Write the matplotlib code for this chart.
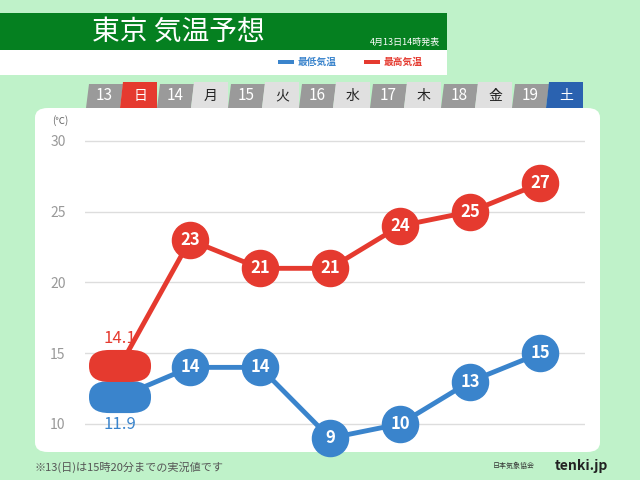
import matplotlib
matplotlib.use("Agg")
import matplotlib.pyplot as plt
from matplotlib.patches import FancyBboxPatch, Rectangle, Polygon

plt.rcParams["font.family"] = ["Noto Sans CJK JP"]

dates = ["13", "14", "15", "16", "17", "18", "19"]
weekdays = ["日", "月", "火", "水", "木", "金", "土"]
max_temp = [14.1, 23, 21, 21, 24, 25, 27]
min_temp = [11.9, 14, 14, 9, 10, 13, 15]
yticks = [10, 15, 20, 25, 30]

RED = "#e53a2f"
BLUE = "#3a84cc"
W, H = 640, 480
fig = plt.figure(figsize=(6.4, 4.8), dpi=100)
fig.patch.set_facecolor("#bff2c9")

def fx(px): return px / W
def fy(py): return 1 - py / H

# header
fig.patches.append(Rectangle((0, fy(75)), fx(447), (75 - 13) / H, transform=fig.transFigure, facecolor="white", edgecolor="none", zorder=-1))
fig.patches.append(Rectangle((0, fy(50)), fx(447), 37 / H, transform=fig.transFigure, facecolor="#058020", edgecolor="none", zorder=-1))
fig.text(fx(178), fy(32), "東京 気温予想", color="white", fontsize=20, va="center", ha="center")
fig.text(fx(440), fy(42), "4月13日14時発表", color="white", fontsize=6.5, va="center", ha="right")
fig.patches.append(Rectangle((fx(278), fy(64)), fx(16), 4 / H, transform=fig.transFigure, facecolor=BLUE, edgecolor="none"))
fig.text(fx(298), fy(62), "最低気温", color=BLUE, fontsize=7, va="center", weight="bold")
fig.patches.append(Rectangle((fx(364), fy(64)), fx(16), 4 / H, transform=fig.transFigure, facecolor=RED, edgecolor="none"))
fig.text(fx(384), fy(62), "最高気温", color=RED, fontsize=7, va="center", weight="bold")

# day strip
for i, (d, w) in enumerate(zip(dates, weekdays)):
    x0 = 86 + i * 71
    s = 3
    num = Polygon([(fx(x0), fy(108)), (fx(x0 + s), fy(84)), (fx(x0 + 37), fy(84)), (fx(x0 + 34), fy(108))],
                  closed=True, transform=fig.transFigure, facecolor="#9a9a9a", edgecolor="none", zorder=-1)
    wc = RED if w == "日" else ("#2a62b0" if w == "土" else "#e0e0e0")
    tc = "white" if w in ("日", "土") else "#222222"
    day = Polygon([(fx(x0 + 34), fy(108)), (fx(x0 + 37), fy(82)), (fx(x0 + 71), fy(82)), (fx(x0 + 71), fy(108))],
                  closed=True, transform=fig.transFigure, facecolor=wc, edgecolor="none", zorder=-1)
    fig.patches.extend([num, day])
    fig.text(fx(x0 + 18), fy(96), d, color="white", fontsize=11, ha="center", va="center")
    fig.text(fx(x0 + 54), fy(96), w, color=tc, fontsize=10, ha="center", va="center")

# white card
fig.patches.append(FancyBboxPatch((fx(35), fy(452)), fx(565), (452 - 108) / H, boxstyle="round,pad=0,rounding_size=0.02",
                                  transform=fig.transFigure, facecolor="white", edgecolor="none", zorder=-1))

ax = fig.add_axes([fx(85), fy(450), 500 / W, 340 / H])
ax.set_zorder(2)
ax.set_facecolor("none")
ax.set_xlim(-0.5, 6.64)
ax.set_ylim(8.16, 32.19)
for s in ax.spines.values():
    s.set_visible(False)
ax.set_xticks([])
ax.set_yticks(yticks)
ax.tick_params(axis="y", length=0, labelsize=10, labelcolor="#999999", pad=14)
for y in yticks:
    ax.axhline(y, color="#dddddd", lw=1, zorder=0)
fig.text(fx(60), fy(121), "(℃)", fontsize=7, color="#666666", ha="center", va="center")

x = list(range(len(dates)))
for vals, col in ((min_temp, BLUE), (max_temp, RED)):
    ax.plot(x, vals, color=col, lw=3.5, zorder=2, clip_on=False)
    ax.plot(x[1:], vals[1:], "o", ms=26, color=col, zorder=3, clip_on=False)
    for xi, v in zip(x[1:], vals[1:]):
        ax.text(xi, v, f"{v:g}", color="white", fontsize=12, ha="center", va="center", weight="bold", zorder=4)
    cx = ax.transData.transform((0, vals[0]))
    c = fig.transFigure.inverted().transform(cx)
    fig.patches.append(FancyBboxPatch((c[0] - fx(31), c[1] - 16 / H), fx(62), 32 / H,
                                      boxstyle="round,pad=0,rounding_size=0.032", transform=fig.transFigure,
                                      facecolor=col, edgecolor="none", zorder=5))
ax.text(0, max_temp[0] + 1.35, f"{max_temp[0]}", color=RED, fontsize=12, ha="center", va="bottom")
ax.text(0, min_temp[0] - 1.35, f"{min_temp[0]}", color=BLUE, fontsize=12, ha="center", va="top")

fig.text(fx(35), fy(467), "※13(日)は15時20分までの実況値です", fontsize=8, color="#555555", va="center")
fig.text(fx(535), fy(466), "日本気象協会", fontsize=5, color="#333333", va="center", ha="right")
fig.text(fx(555), fy(466), "tenki.jp", fontsize=10, color="#222222", va="center", weight="bold")

fig.savefig("out.png", dpi=100, facecolor=fig.get_facecolor())
